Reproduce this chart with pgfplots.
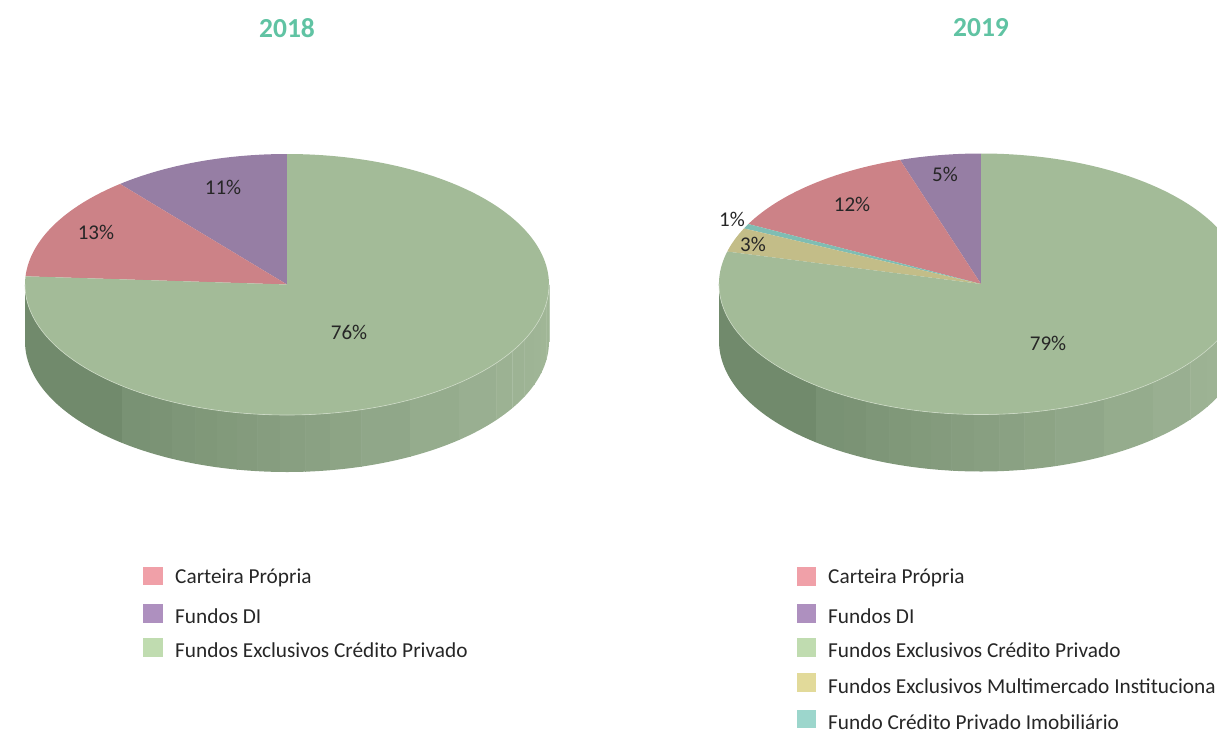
\documentclass[border=0pt]{standalone}
\usepackage{pgfplots}
\pgfplotsset{compat=1.18}
\usepackage{pgfplotstable}
\usepackage{fontspec}
\setmainfont{Carlito}
\definecolor{topgreen}{HTML}{A3BB98}
\definecolor{toppink}{HTML}{CC8287}
\definecolor{toppurple}{HTML}{967EA4}
\definecolor{topyellow}{HTML}{C3BD88}
\definecolor{topteal}{HTML}{7FBDB3}
\definecolor{legpink}{HTML}{F0A0A8}
\definecolor{legpurple}{HTML}{AE90BF}
\definecolor{leggreen}{HTML}{C0DCB0}
\definecolor{legyellow}{HTML}{E2DA9A}
\definecolor{legteal}{HTML}{9CD6CC}
\definecolor{titlecol}{HTML}{60C3A3}
\definecolor{sidedark}{HTML}{6F886A}
\definecolor{sidelight}{HTML}{A0B697}
\definecolor{labcol}{HTML}{262626}

% slices run counterclockwise from 12 o'clock
\pgfplotstableread{
value color
11 toppurple
13 toppink
76 topgreen
}\tblA
\pgfplotstableread{
value color
5.0 toppurple
12.4 toppink
0.6 topteal
3.0 topyellow
79.0 topgreen
}\tblB

\newcommand\drawside[1]{%
  \foreach \a/\b in {180/231,231/238.5,238.5/244,244/249.5,249.5/254.5,254.5/259,259/263.5,263.5/268.5,268.5/274,274/279.5,279.5/286.5,286.5/298,298/311,311/323,323/329.5,329.5/335,335/340.5,340.5/346,346/352,352/360}{%
    \pgfmathtruncatemacro\mixp{(1+cos((\a+\b)/2))/2*100}%
    \fill[sidelight!\mixp!sidedark] (#1) ++(\a:262pt and 130.5pt) arc[start angle=\a,end angle=\b,x radius=262pt,y radius=130.5pt] -- ++(0,-57pt) arc[start angle=\b,end angle=\a,x radius=262pt,y radius=130.5pt] -- cycle;
    \draw[white!25!sidelight!\mixp!sidedark, line width=0.5pt] (#1) ++(\b:262pt and 130.5pt) -- ++(0,-57pt);
  }%
}
\newcommand\drawpie[2]{%
  \pgfplotstablegetrowsof{#1}\pgfmathtruncatemacro\N{\pgfplotsretval-1}%
  \xdef\cumang{90}%
  \foreach \i in {0,...,\N}{%
    \pgfplotstablegetelem{\i}{value}\of{#1}\let\v\pgfplotsretval
    \pgfplotstablegetelem{\i}{color}\of{#1}\edef\c{\pgfplotsretval}%
    \pgfmathsetmacro\aone{\cumang}%
    \pgfmathsetmacro\atwo{\cumang+3.6*\v}%
    \fill[\c] (#2) -- ++(\aone:262pt and 130.5pt) arc[start angle=\aone,end angle=\atwo,x radius=262pt,y radius=130.5pt] -- cycle;
    \xdef\cumang{\atwo}%
  }%
  \draw[white!45!topgreen, line width=0.6pt] (#2) ++(180:262pt and 130.5pt) arc[start angle=180,end angle=360,x radius=262pt,y radius=130.5pt];
}

\begin{document}
\begin{tikzpicture}
\begin{axis}[scale only axis, width=1217pt, height=731pt,
  xmin=0, xmax=1217, ymin=0, ymax=731, y dir=reverse,
  axis lines=none, clip=false]
\pgfplotsextra{%
  \drawside{axis cs:287,284.5}%
  \drawpie{\tblA}{axis cs:287,284.5}%
  \drawside{axis cs:981,284}%
  \drawpie{\tblB}{axis cs:981,284}%
}
% titles
\node[text=titlecol, font=\fontsize{27.5}{32}\selectfont\bfseries] at (axis cs:287,28) {2018};
\node[text=titlecol, font=\fontsize{27.5}{32}\selectfont\bfseries] at (axis cs:981,28) {2019};
% data labels
\begin{scope}[every node/.style={text=labcol, font=\fontsize{21}{25}\selectfont, inner sep=0pt}]
\node at (axis cs:223,187) {11\%};
\node at (axis cs:96,232) {13\%};
\node at (axis cs:349,332) {76\%};
\node at (axis cs:945,174) {5\%};
\node at (axis cs:852,204) {12\%};
\node at (axis cs:732,219) {1\%};
\node at (axis cs:753,244) {3\%};
\node at (axis cs:1048,343) {79\%};
\end{scope}
% legends
\begin{scope}[every node/.style={text=labcol, font=\fontsize{21.3}{25}\selectfont, inner sep=0pt, anchor=west}]
\fill[legpink] (axis cs:143,567) rectangle (axis cs:163,585);
\node at (axis cs:175,578) {Carteira Própria};
\fill[legpurple] (axis cs:143,604) rectangle (axis cs:163,623);
\node at (axis cs:175,616) {Fundos DI};
\fill[leggreen] (axis cs:143,638) rectangle (axis cs:163,657);
\node at (axis cs:175,650) {Fundos Exclusivos Crédito Privado};
\fill[legpink] (axis cs:797,567) rectangle (axis cs:816,586);
\node at (axis cs:828,578) {Carteira Própria};
\fill[legpurple] (axis cs:797,604) rectangle (axis cs:816,623);
\node at (axis cs:828,616) {Fundos DI};
\fill[leggreen] (axis cs:797,638) rectangle (axis cs:816,657);
\node at (axis cs:828,650) {Fundos Exclusivos Crédito Privado};
\fill[legyellow] (axis cs:797,673) rectangle (axis cs:816,692);
\node at (axis cs:828,686) {Fundos Exclusivos Multimercado Institucional};
\fill[legteal] (axis cs:797,710) rectangle (axis cs:816,728);
\node at (axis cs:828,722) {Fundo Crédito Privado Imobiliário};
\end{scope}
\end{axis}
\pgfresetboundingbox
\path[use as bounding box] (current axis.south west) rectangle (current axis.north east);
\end{tikzpicture}
\end{document}
